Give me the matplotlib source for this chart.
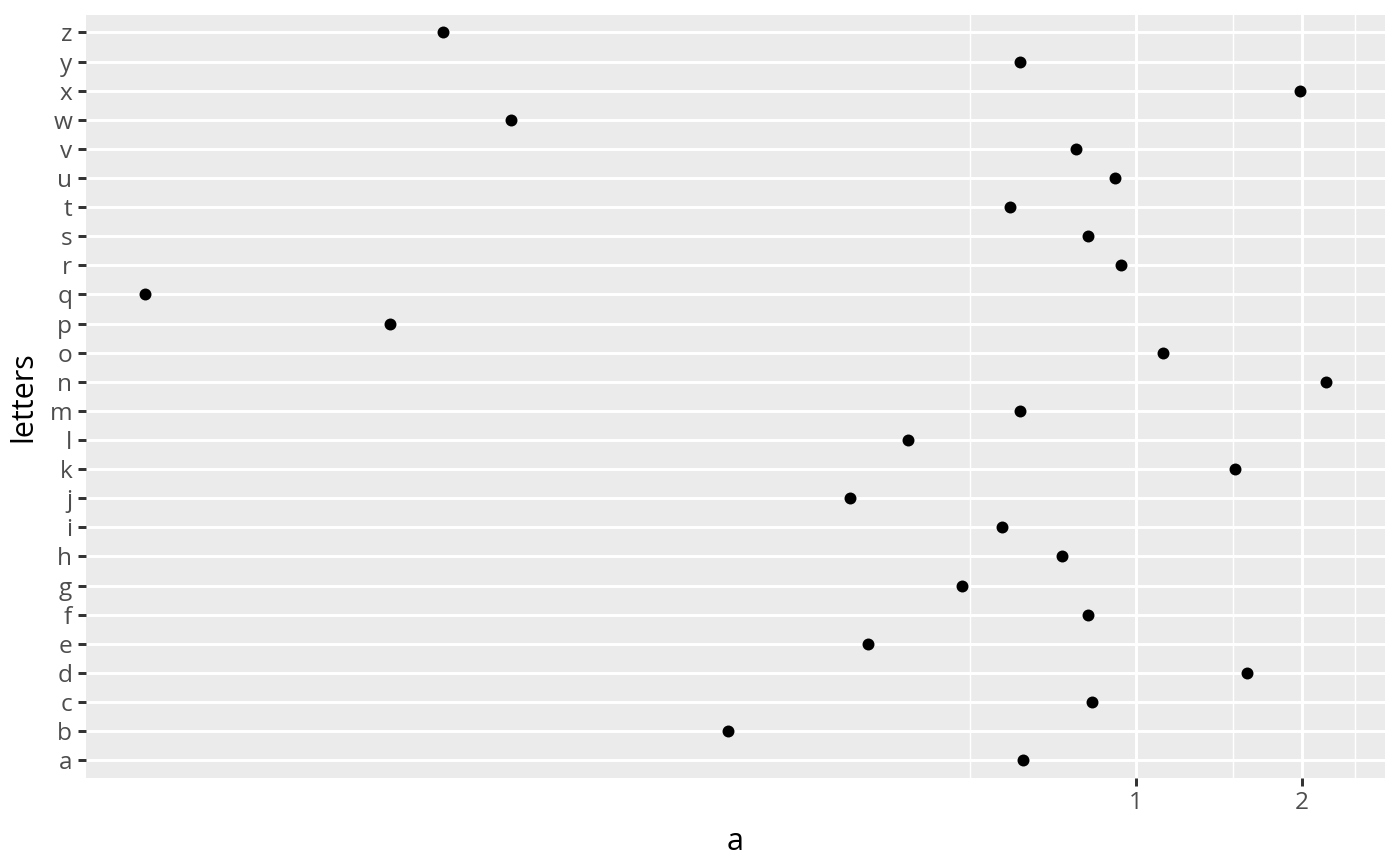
import numpy as np
import matplotlib
matplotlib.use("Agg")
import matplotlib.pyplot as plt
from matplotlib.ticker import FixedLocator, NullFormatter

letters = list("abcdefghijklmnopqrstuvwxyz")
a = [0.625, 0.182, 0.834, 1.592, 0.327, 0.820, 0.484, 0.735, 0.572, 0.303,
     1.514, 0.386, 0.617, 2.214, 1.121, 0.0444, 0.01597, 0.940, 0.820, 0.592,
     0.917, 0.779, 0.0736, 1.986, 0.617, 0.0554]

major_x = [1, 2]
minor_x = [0.5, 1.5, 2.5]

plt.rcParams['font.family'] = ['Open Sans', 'DejaVu Sans']

fig = plt.figure(figsize=(7, 4.33), dpi=200)
ax = fig.add_axes([0.0614, 0.102, 0.9279, 0.8807])
ax.set_facecolor('#EBEBEB')

ypos = np.arange(1, len(letters) + 1)
ax.scatter(a, ypos, s=4.3**2, color='black', linewidths=0, zorder=3)

ax.set_xscale('log')
lo, hi = np.log10(min(a)), np.log10(max(a))
pad = (hi - lo) * 0.05
ax.set_xlim(10 ** (lo - pad), 10 ** (hi + pad))
ax.set_ylim(0.4, len(letters) + 0.6)

ax.xaxis.set_major_locator(FixedLocator(major_x))
ax.xaxis.set_minor_locator(FixedLocator(minor_x))
ax.xaxis.set_minor_formatter(NullFormatter())
ax.set_xticklabels([str(v) for v in major_x])
ax.set_yticks(ypos)
ax.set_yticklabels(letters)

ax.grid(which='major', color='white', linewidth=1.07)
ax.grid(which='minor', axis='x', color='white', linewidth=0.53)
ax.set_axisbelow(True)

for s in ax.spines.values():
    s.set_visible(False)
ax.tick_params(which='major', length=2.75, width=1.07, color='#333333',
               labelsize=8.8, labelcolor='#4D4D4D', pad=2.2)
ax.tick_params(which='minor', length=0)

ax.set_xlabel('a', fontsize=11, labelpad=4)
ax.set_ylabel('letters', fontsize=11, labelpad=4)

fig.savefig('out.png', dpi=200)
